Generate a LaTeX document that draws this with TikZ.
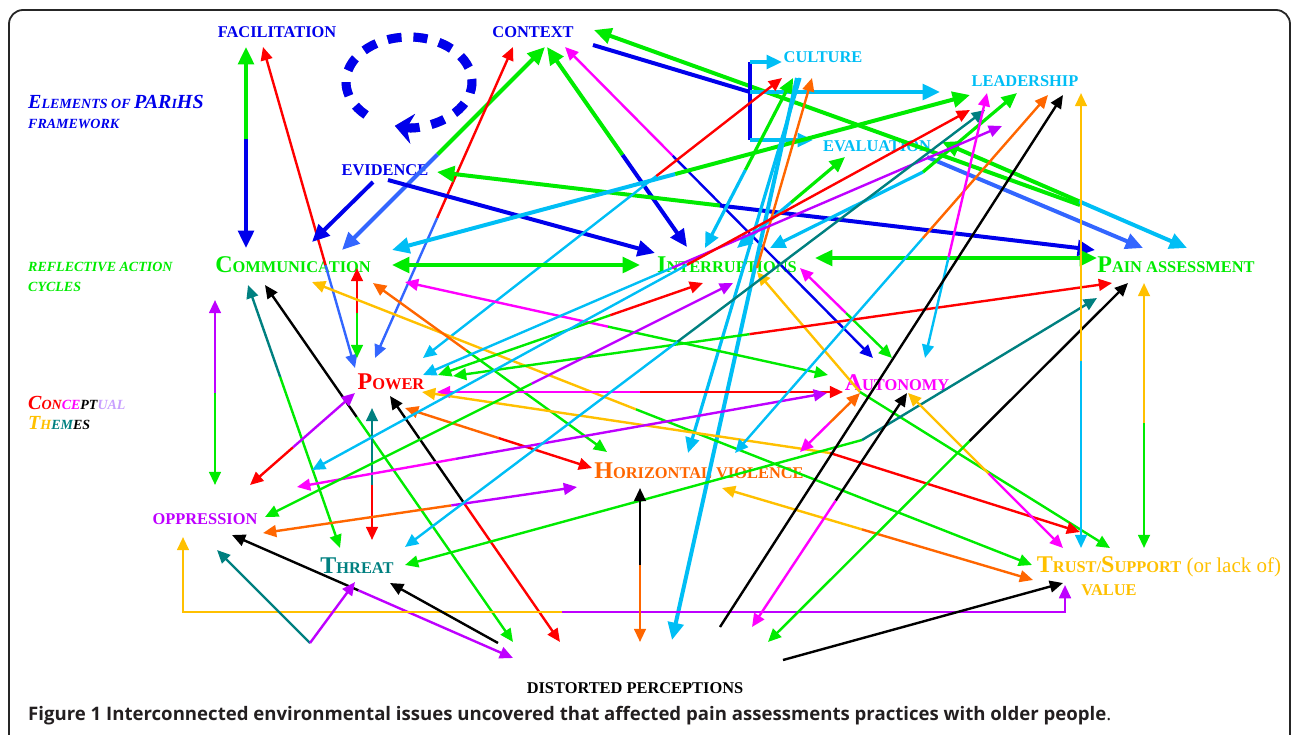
\documentclass[tikz,border=0pt]{standalone}
\usepackage{fontspec}
\setmainfont{Liberation Serif}
\newfontfamily\figfont{Open Sans}
\usetikzlibrary{arrows.meta,calc}

\definecolor{cBlue}{RGB}{0,0,235}
\definecolor{cRoyal}{RGB}{51,102,255}
\definecolor{cSky}{RGB}{0,190,245}
\definecolor{cGreen}{RGB}{0,235,0}
\definecolor{cRed}{RGB}{255,0,0}
\definecolor{cMag}{RGB}{255,0,255}
\definecolor{cPurp}{RGB}{190,0,255}
\definecolor{cOrange}{RGB}{255,102,0}
\definecolor{cGold}{RGB}{255,192,0}
\definecolor{cTeal}{RGB}{0,128,128}
\definecolor{cLav}{RGB}{200,160,255}
\definecolor{capgray}{RGB}{35,31,32}

% two coloured connector, arrow at both ends
\newcommand{\duo}[6][]{%
  \path #5 -- #6 coordinate[pos=#4] (split);
  \draw[#1,#2,<-] #5 -- (split);
  \draw[#1,#3,->] (split) -- #6;}
\newcommand{\bigc}[1]{{\fontsize{12}{12}\selectfont #1}}
\newcommand{\bigi}[1]{{\fontsize{10}{10}\selectfont #1}}

\begin{document}
\begin{tikzpicture}[x=0.5pt,y=-0.5pt,
  >={Triangle[length=3.5pt 2.6,width=3pt 2.4]},
  line width=1.2pt,
  fat/.style={line width=2pt},
  mid/.style={line width=1.6pt},
  lbl/.style={font=\bfseries\fontsize{8.2}{9}\selectfont,inner sep=0pt},
  side/.style={anchor=west,align=left,inner sep=0pt,
    font=\bfseries\itshape\fontsize{7}{10}\selectfont},
  ring/.style={line width=4.5pt,dash pattern=on 7pt off 6pt,
    -{Stealth[length=9pt,width=15pt,inset=3pt]}}]
\useasboundingbox (0,0) rectangle (1295,734);
\draw[line width=0.9pt,black!85,rounded corners=7pt] (9,760) -- (9,10) -- (1290,10) -- (1290,760);

% labels
\node[lbl,cBlue] (facil) at (277,32) {FACILITATION};
\node[lbl,cBlue] (ctx) at (533,32) {CONTEXT};
\node[lbl,cSky] (cult) at (823,57) {CULTURE};
\node[lbl,cSky] (lead) at (1025,81) {LEADERSHIP};
\node[lbl,cSky] (eval) at (877,146) {EVALUATION};
\node[lbl,cBlue] (evid) at (385,170) {EVIDENCE};
\node[lbl,cGreen] (comm) at (293,265) {\bigc{C}OMMUNICATION};
\node[lbl,cGreen] (intr) at (727,265) {\bigc{I}NTERRUPTIONS};
\node[lbl,cGreen] (pain) at (1176,265) {\bigc{P}AIN ASSESSMENT};
\node[lbl,cRed] (pow) at (391,382) {\bigc{P}OWER};
\node[lbl,cMag] (aut) at (897,383) {\bigc{A}UTONOMY};
\node[lbl,cOrange] (hv) at (699,471) {\bigc{H}ORIZONTAL VIOLENCE};
\node[lbl,cPurp] (opp) at (205,519) {OPPRESSION};
\node[lbl,cTeal] (thr) at (357,566) {\bigc{T}HREAT};
\node[lbl,cGold] (trust) at (1159,567) {\bigc{T}RUST/\bigc{S}UPPORT{\mdseries\fontsize{10.5}{12}\selectfont\ (or lack of)}};
\node[lbl,cGold] (val) at (1109,590) {VALUE};
\node[lbl,black] (dist) at (635,688) {DISTORTED PERCEPTIONS};

\node[side,cBlue] (parihs) at (27,112) {\bigi{E}LEMENTS OF \bigi{PAR}I\bigi{HS}\\FRAMEWORK};
\node[side,cGreen] (racyc) at (27,277) {REFLECTIVE ACTION\\CYCLES};
\node[side] (cthemes) at (27,413) {\textcolor{cRed}{\bigi{C}ON}\textcolor{cMag}{CE}\textcolor{black}{PT}\textcolor{cLav}{UAL}\\
  \textcolor{cGold}{\bigi{T}H}\textcolor{cTeal}{EM}\textcolor{black}{ES}};
\node[anchor=west,inner sep=0pt,text=capgray,font=\figfont\bfseries\fontsize{9.3}{11}\selectfont] (cap) at (27,716)
  {Figure 1 Interconnected environmental issues uncovered that affected pain assessments practices with older people{\mdseries .}};

% cycle ring
\draw[ring,gray!70,shift={(4,4)}] ($(evid)+(24,-88)$) ++(133:63 and 45) arc (133:463:63 and 45);
\draw[ring,cBlue] ($(evid)+(24,-88)$) ++(133:63 and 45) arc (133:463:63 and 45);

% facilitation
\duo[fat]{cGreen}{cBlue}{0.46}{($(facil)+(-31,15)$)}{($(comm)+(-47,-17)$)}
\duo{cRed}{cRoyal}{0.68}{($(facil)+(-14,15)$)}{($(pow)+(-36,-14)$)}
% context
\duo[fat]{cGreen}{cRoyal}{0.53}{($(ctx)+(12,15)$)}{($(comm)+(49,-15)$)}
\duo[fat]{cGreen}{cBlue}{0.54}{($(ctx)+(14,15)$)}{($(intr)+(-40,-18)$)}
\duo{cMag}{cBlue}{0.35}{($(ctx)+(32,15)$)}{($(aut)+(-24,-25)$)}
\duo{cRed}{cRoyal}{0.55}{($(ctx)+(-20,15)$)}{($(pow)+(-16,-24)$)}
\draw[fat,cGreen,<-] ($(ctx)+(61,-2)$) -- ($(pain)+(-96,-60)$);
% evidence
\draw[fat,cBlue,->] ($(evid)+(-12,12)$) -- ($(comm)+(19,-23)$);
\draw[fat,cBlue,->] ($(evid)+(3,10)$) -- ($(intr)+(-72,-12)$);
\duo[fat]{cGreen}{cBlue}{0.43}{($(evid)+(52,2)$)}{($(pain)+(-81,-15)$)}
% bracket to culture, leadership, evaluation
\coordinate (brk) at ($(cult)+(-73,35)$);
\draw[fat,cBlue] ($(ctx)+(60,13)$) -- (brk);
\draw[fat,cBlue] ($(cult)+(-73,5)$) -- ($(cult)+(-73,83)$);
\draw[mid,cSky,->] ($(cult)+(-73,5)$) -- ($(cult)+(-41,5)$);
\draw[fat,cSky,->] (brk) -- ($(lead)+(-85,11)$);
\draw[mid,cSky,->] ($(cult)+(-73,83)$) -- ($(eval)+(-64,-6)$);
% evaluation, leadership, culture
\duo[fat]{cGreen}{cSky}{0.56}{($(eval)+(65,-4)$)}{($(pain)+(11,-17)$)}
\draw[fat,cRoyal,->] ($(eval)+(50,11)$) -- ($(pain)+(-33,-17)$);
\duo[fat]{cSky}{cGreen}{0.49}{($(comm)+(99,-15)$)}{($(lead)+(-55,14)$)}
\duo{cSky}{cRed}{0.65}{($(pow)+(32,-24)$)}{($(cult)+(-41,21)$)}
\duo[mid]{cSky}{cGreen}{0.46}{($(intr)+(-22,-17)$)}{($(cult)+(-30,21)$)}
\draw[fat,cSky,->] ($(cult)+(-26,21)$) -- ($(dist)+(37,-48)$);
\draw[mid,cSky,->] ($(cult)+(-23,21)$) -- ($(hv)+(-11,-18)$);
\draw[mid,cSky,<-] ($(intr)+(43,-17)$) -- ($(lead)+(-102,91)$);
\draw[mid,cGreen,->] ($(lead)+(-102,91)$) -- ($(lead)+(-8,12)$);
\duo[mid]{cSky}{cGreen}{0.5}{($(intr)+(10,-17)$)}{($(eval)+(-32,11)$)}
\draw[fat,cGreen,<->] ($(comm)+(99,0)$) -- ($(intr)+(-87,0)$);
\draw[fat,cGreen,<->] ($(intr)+(88,-7)$) -- ($(pain)+(-79,-7)$);
% communication
\duo{cRed}{cGreen}{0.5}{($(comm)+(64,3)$)}{($(pow)+(-34,-24)$)}
\duo{cGold}{cGreen}{0.45}{($(comm)+(19,17)$)}{($(trust)+(-127,-2)$)}
\duo{cOrange}{cGreen}{0.4}{($(comm)+(80,18)$)}{($(hv)+(-92,-19)$)}
\duo{cMag}{cGreen}{0.48}{($(comm)+(112,17)$)}{($(aut)+(-69,-8)$)}
\duo{cTeal}{cGreen}{0.35}{($(comm)+(-45,20)$)}{($(thr)+(-17,-18)$)}
\duo{black}{cGreen}{0.37}{($(comm)+(-28,20)$)}{($(dist)+(-122,-46)$)}
\duo{cPurp}{cGreen}{0.5}{($(comm)+(-78,35)$)}{($(opp)+(10,-34)$)}
% interruptions, autonomy
\duo{cMag}{cGreen}{0.5}{($(intr)+(73,3)$)}{($(aut)+(-5,-25)$)}
\draw[cGold,<-] ($(intr)+(30,7)$) -- ($(aut)+(-37,9)$);
\draw[cGreen,->] ($(aut)+(-37,9)$) -- ($(trust)+(-49,-19)$);
\draw[cOrange,->] ($(intr)+(30,3)$) -- ($(cult)+(-11,21)$);
% power
\duo{cGreen}{cRed}{0.65}{($(pow)+(47,-7)$)}{($(intr)+(-24,18)$)}
\duo{cGreen}{cRed}{0.45}{($(pow)+(62,-6)$)}{($(pain)+(-64,18)$)}
\duo{cSky}{cPurp}{0.43}{($(pow)+(32,-7)$)}{($(lead)+(-23,45)$)}
\duo{cMag}{cRed}{0.5}{($(pow)+(46,10)$)}{($(aut)+(-54,9)$)}
\draw[cGold,<-] ($(pow)+(31,10)$) -- ($(aut)+(-67,70)$);
\draw[cRed,->] ($(aut)+(-67,70)$) -- ($(trust)+(-79,-35)$);
\duo{cTeal}{cRed}{0.58}{($(pow)+(-19,26)$)}{($(thr)+(15,-26)$)}
\duo{black}{cRed}{0.43}{($(pow)+(-1,14)$)}{($(dist)+(-75,-46)$)}
\duo{cOrange}{cRed}{0.5}{($(pow)+(14,26)$)}{($(hv)+(-107,-3)$)}
\duo{cSky}{cRed}{0.57}{($(pow)+(-79,88)$)}{($(lead)+(-55,29)$)}
% oppression
\duo{cMag}{cPurp}{0.3}{($(opp)+(92,-32)$)}{($(aut)+(-70,10)$)}
\duo{cRed}{cPurp}{0.41}{($(opp)+(45,-34)$)}{($(pow)+(-36,11)$)}
\duo{cGreen}{cPurp}{0.57}{($(opp)+(60,-2)$)}{($(intr)+(6,18)$)}
\duo{cOrange}{cPurp}{0.6}{($(opp)+(58,14)$)}{($(hv)+(-122,16)$)}
\duo{black}{cPurp}{0.45}{($(opp)+(27,16)$)}{($(dist)+(-122,-30)$)}
\draw[cGold,<-] ($(opp)+(-22,18)$) |- ($(dist)+(-73,-76)$);
\draw[cPurp,->] ($(dist)+(-73,-76)$) -| ($(trust)+(-94,18)$);
% threat
\draw[cTeal,->] ($(thr)+(-47,77)$) -- ($(opp)+(12,31)$);
\draw[cPurp,->] ($(thr)+(-47,77)$) -- ($(thr)+(-2,16)$);
\draw[black,->] ($(dist)+(-137,-45)$) -- ($(thr)+(33,17)$);
\draw[cGreen,<-] ($(thr)+(48,-1)$) -- ($(aut)+(-35,57)$);
\draw[cTeal,->] ($(aut)+(-35,57)$) -- ($(pain)+(-79,33)$);
\duo{cSky}{cTeal}{0.47}{($(thr)+(48,-19)$)}{($(lead)+(-40,29)$)}
% horizontal violence
\duo{black}{cOrange}{0.5}{($(hv)+(-59,17)$)}{($(dist)+(5,-46)$)}
\duo{cGold}{cOrange}{0.45}{($(hv)+(23,17)$)}{($(trust)+(-126,13)$)}
\duo{cMag}{cOrange}{0.5}{($(hv)+(101,-19)$)}{($(aut)+(-37,10)$)}
\duo{cSky}{cOrange}{0.6}{($(hv)+(36,-18)$)}{($(lead)+(23,14)$)}
% leadership, autonomy, trust
\duo{cMag}{cSky}{0.62}{($(lead)+(-38,12)$)}{($(aut)+(28,-25)$)}
\duo{cGold}{cMag}{0.52}{($(aut)+(11,10)$)}{($(trust)+(-96,-19)$)}
\duo{black}{cMag}{0.46}{($(aut)+(10,10)$)}{($(dist)+(117,-61)$)}
\draw[black,->] ($(dist)+(85,-61)$) -- ($(lead)+(38,14)$);
\duo{cGreen}{black}{0.56}{($(dist)+(133,-46)$)}{($(pain)+(-48,18)$)}
\draw[black,->] ($(dist)+(148,-28)$) -- ($(trust)+(-96,16)$);
\duo{cGold}{cSky}{0.59}{($(lead)+(56,12)$)}{($(trust)+(-78,-19)$)}
\duo{cGold}{cGreen}{0.53}{($(pain)+(-32,18)$)}{($(trust)+(-15,-19)$)}
\end{tikzpicture}
\end{document}
